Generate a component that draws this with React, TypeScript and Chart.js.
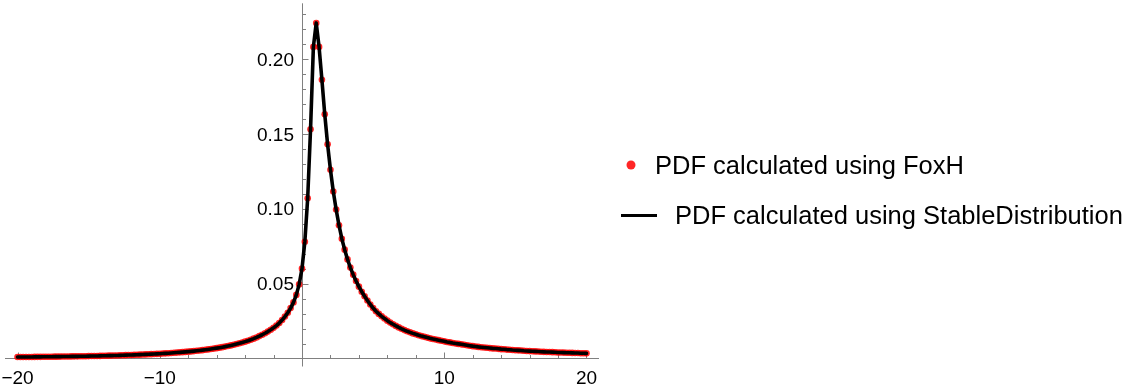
import { useEffect, useRef } from "react";
import { Chart, registerables } from "chart.js";

Chart.register(...registerables);

// Sample positions (x)
const xValues = [
  -20, -19.8, -19.6, -19.4, -19.2,
  -19, -18.8, -18.6, -18.4, -18.2,
  -18, -17.8, -17.6, -17.4, -17.2,
  -17, -16.8, -16.6, -16.4, -16.2,
  -16, -15.8, -15.6, -15.4, -15.2,
  -15, -14.8, -14.6, -14.4, -14.2,
  -14, -13.8, -13.6, -13.4, -13.2,
  -13, -12.8, -12.6, -12.4, -12.2,
  -12, -11.8, -11.6, -11.4, -11.2,
  -11, -10.8, -10.6, -10.4, -10.2,
  -10, -9.8, -9.6, -9.4, -9.2,
  -9, -8.8, -8.6, -8.4, -8.2,
  -8, -7.8, -7.6, -7.4, -7.2,
  -7, -6.8, -6.6, -6.4, -6.2,
  -6, -5.8, -5.6, -5.4, -5.2,
  -5, -4.8, -4.6, -4.4, -4.2,
  -4, -3.8, -3.6, -3.4, -3.2,
  -3, -2.8, -2.6, -2.4, -2.2,
  -2, -1.8, -1.6, -1.4, -1.2,
  -1, -0.8, -0.6, -0.4, -0.2,
  0, 0.2, 0.4, 0.6, 0.8,
  1, 1.2, 1.4, 1.6, 1.8,
  2, 2.2, 2.4, 2.6, 2.8,
  3, 3.2, 3.4, 3.6, 3.8,
  4, 4.2, 4.4, 4.6, 4.8,
  5, 5.2, 5.4, 5.6, 5.8,
  6, 6.2, 6.4, 6.6, 6.8,
  7, 7.2, 7.4, 7.6, 7.8,
  8, 8.2, 8.4, 8.6, 8.8,
  9, 9.2, 9.4, 9.6, 9.8,
  10, 10.2, 10.4, 10.6, 10.8,
  11, 11.2, 11.4, 11.6, 11.8,
  12, 12.2, 12.4, 12.6, 12.8,
  13, 13.2, 13.4, 13.6, 13.8,
  14, 14.2, 14.4, 14.6, 14.8,
  15, 15.2, 15.4, 15.6, 15.8,
  16, 16.2, 16.4, 16.6, 16.8,
  17, 17.2, 17.4, 17.6, 17.8,
  18, 18.2, 18.4, 18.6, 18.8,
  19, 19.2, 19.4, 19.6, 19.8,
  20,
];

// PDF values (FoxH points)
const foxHValues = [
  0.00100, 0.00102, 0.00104, 0.00106, 0.00108,
  0.00110, 0.00112, 0.00114, 0.00116, 0.00118,
  0.00120, 0.00122, 0.00125, 0.00127, 0.00130,
  0.00132, 0.00135, 0.00138, 0.00141, 0.00144,
  0.00147, 0.00150, 0.00153, 0.00157, 0.00160,
  0.00164, 0.00168, 0.00172, 0.00176, 0.00180,
  0.00185, 0.00189, 0.00194, 0.00199, 0.00204,
  0.00210, 0.00215, 0.00221, 0.00227, 0.00234,
  0.00240, 0.00247, 0.00254, 0.00262, 0.00270,
  0.00278, 0.00287, 0.00296, 0.00305, 0.00315,
  0.00326, 0.00337, 0.00348, 0.00360, 0.00373,
  0.00386, 0.00400, 0.00414, 0.00429, 0.00445,
  0.00462, 0.00480, 0.00499, 0.00519, 0.00540,
  0.00562, 0.00586, 0.00611, 0.00638, 0.00666,
  0.00696, 0.00728, 0.00762, 0.00798, 0.00837,
  0.00878, 0.00922, 0.00969, 0.01019, 0.01073,
  0.0113, 0.0119, 0.0126, 0.0133, 0.0141,
  0.0150, 0.0159, 0.0169, 0.0180, 0.0192,
  0.0205, 0.0220, 0.0237, 0.0257, 0.0280,
  0.0306, 0.0337, 0.0375, 0.0425, 0.0495,
  0.0600, 0.0780, 0.1070, 0.1530, 0.2080,
  0.2240, 0.2080, 0.1860, 0.1630, 0.1430,
  0.1260, 0.1115, 0.0995, 0.0890, 0.0800,
  0.0727, 0.0662, 0.0607, 0.0560, 0.0518,
  0.0480, 0.0446, 0.0416, 0.0388, 0.0361,
  0.0337, 0.0316, 0.0298, 0.0282, 0.0267,
  0.0253, 0.0240, 0.0229, 0.0218, 0.0208,
  0.0199, 0.0190, 0.0182, 0.0175, 0.0168,
  0.0162, 0.0156, 0.0150, 0.0145, 0.0140,
  0.0135, 0.0131, 0.0127, 0.0123, 0.0119,
  0.0115, 0.0111, 0.0108, 0.0104, 0.0101,
  0.0098, 0.0095, 0.0092, 0.0089, 0.0086,
  0.0083, 0.0081, 0.0078, 0.0076, 0.0074,
  0.0072, 0.0070, 0.0068, 0.0067, 0.0065,
  0.0063, 0.0062, 0.0060, 0.0059, 0.0057,
  0.0056, 0.0055, 0.0054, 0.0052, 0.0051,
  0.0050, 0.0049, 0.0048, 0.0047, 0.0046,
  0.0045, 0.0044, 0.0044, 0.0043, 0.0042,
  0.0041, 0.0041, 0.0040, 0.0039, 0.0039,
  0.0038, 0.0037, 0.0037, 0.0036, 0.0036,
  0.0035,
];

// The StableDistribution curve coincides with the FoxH values
const stableValues = foxHValues;

const xMajorTicks = [-20, -10, 10, 20];
const xTickLabels = ["\u221220", "\u221210", "10", "20"];
const xMinorTicks = [-18, -16, -14, -12, -8, -6, -4, -2, 2, 4, 6, 8, 12, 14, 16, 18];
const yMajorTicks = [0.05, 0.1, 0.15, 0.2];
const yTickLabels = ["0.05", "0.10", "0.15", "0.20"];
const yMinorTicks = [
  0.01, 0.02, 0.03, 0.04, 0.06, 0.07, 0.08, 0.09, 0.11, 0.12, 0.13, 0.14,
  0.16, 0.17, 0.18, 0.19, 0.21, 0.22, 0.23,
];

const seriesLabels = ["PDF calculated using FoxH", "PDF calculated using StableDistribution"];

const FONT = '"Liberation Sans", Arial, Helvetica, sans-serif';
const AXIS_COLOR = "#808080";

const axesPlugin = {
  id: "mmaAxes",
  beforeDatasetsDraw(chart: any) {
    const { ctx, chartArea, scales } = chart;
    const xs = scales.x;
    const ys = scales.y;
    const ax = Math.floor(xs.getPixelForValue(0)) + 0.5;
    const ay = Math.floor(ys.getPixelForValue(0)) + 0.5;
    ctx.save();
    ctx.strokeStyle = AXIS_COLOR;
    ctx.lineWidth = 1;
    ctx.beginPath();
    ctx.moveTo(chartArea.left, ay);
    ctx.lineTo(chartArea.right, ay);
    ctx.moveTo(ax, chartArea.top);
    ctx.lineTo(ax, chartArea.bottom);
    // x ticks (pointing up)
    xMajorTicks.forEach((v) => {
      const px = Math.round(xs.getPixelForValue(v)) + 0.5;
      ctx.moveTo(px, ay);
      ctx.lineTo(px, ay - 6);
    });
    xMinorTicks.forEach((v) => {
      const px = Math.round(xs.getPixelForValue(v)) + 0.5;
      ctx.moveTo(px, ay);
      ctx.lineTo(px, ay - 3.5);
    });
    // y ticks (pointing right)
    yMajorTicks.forEach((v) => {
      const py = Math.round(ys.getPixelForValue(v)) + 0.5;
      ctx.moveTo(ax, py);
      ctx.lineTo(ax + 6, py);
    });
    yMinorTicks.forEach((v) => {
      const py = Math.round(ys.getPixelForValue(v)) + 0.5;
      ctx.moveTo(ax, py);
      ctx.lineTo(ax + 3.5, py);
    });
    ctx.stroke();

    ctx.fillStyle = "#000";
    ctx.font = `19px ${FONT}`;
    ctx.textAlign = "center";
    ctx.textBaseline = "alphabetic";
    xMajorTicks.forEach((v, i) => {
      ctx.fillText(xTickLabels[i], xs.getPixelForValue(v), ay + 25.5);
    });
    ctx.textAlign = "right";
    ctx.textBaseline = "middle";
    yMajorTicks.forEach((v, i) => {
      ctx.fillText(yTickLabels[i], ax - 8.5, ys.getPixelForValue(v) + 1.5);
    });
    ctx.restore();
  },
};

const legendPlugin = {
  id: "mmaLegend",
  afterDraw(chart: any) {
    const { ctx } = chart;
    const ds = chart.data.datasets;
    ctx.save();
    // FoxH points
    ctx.fillStyle = ds[1].backgroundColor;
    ctx.beginPath();
    ctx.arc(631, 165, 4.5, 0, Math.PI * 2);
    ctx.fill();
    // StableDistribution line
    ctx.strokeStyle = ds[0].borderColor;
    ctx.lineWidth = 3;
    ctx.beginPath();
    ctx.moveTo(621, 215.5);
    ctx.lineTo(657, 215.5);
    ctx.stroke();

    ctx.fillStyle = "#000";
    ctx.font = `25.5px ${FONT}`;
    ctx.textAlign = "left";
    ctx.textBaseline = "alphabetic";
    ctx.fillText(ds[1].label, 655, 174);
    ctx.fillText(ds[0].label, 675, 224);
    ctx.restore();
  },
};

export default function App() {
  const canvasRef = useRef<HTMLCanvasElement | null>(null);

  useEffect(() => {
    const canvas = canvasRef.current;
    if (!canvas) return;
    const chart = new Chart(canvas, {
      type: "scatter",
      data: {
        datasets: [
          {
            type: "line",
            label: seriesLabels[1],
            data: xValues.map((x, i) => ({ x, y: stableValues[i] })),
            borderColor: "#000000",
            backgroundColor: "#000000",
            borderWidth: 3.6,
            pointRadius: 0,
            pointHoverRadius: 0,
            tension: 0,
            fill: false,
            borderJoinStyle: "round",
            borderCapStyle: "round",
          } as any,
          {
            type: "scatter",
            label: seriesLabels[0],
            data: xValues.map((x, i) => ({ x, y: foxHValues[i] })),
            backgroundColor: "rgba(255,0,0,0.85)",
            borderColor: "rgba(255,0,0,0)",
            borderWidth: 0,
            pointRadius: 3.3,
            pointHoverRadius: 3.3,
          } as any,
        ],
      },
      options: {
        responsive: false,
        maintainAspectRatio: false,
        animation: false,
        events: [],
        layout: { padding: { left: 5, right: 544, top: 0, bottom: 24.5 } },
        scales: {
          x: { type: "linear", min: -20.88, max: 20.88, display: false },
          y: { type: "linear", min: -0.00529, max: 0.2371, display: false },
        },
        plugins: {
          legend: { display: false },
          tooltip: { enabled: false },
        },
      },
      plugins: [axesPlugin, legendPlugin],
    });
    return () => chart.destroy();
  }, []);

  return (
    <div style={{ position: "fixed", left: 0, top: 0, width: 1143, height: 391, background: "#fff" }}>
      <canvas ref={canvasRef} width={1143} height={391} style={{ display: "block", width: 1143, height: 391 }} />
    </div>
  );
}
